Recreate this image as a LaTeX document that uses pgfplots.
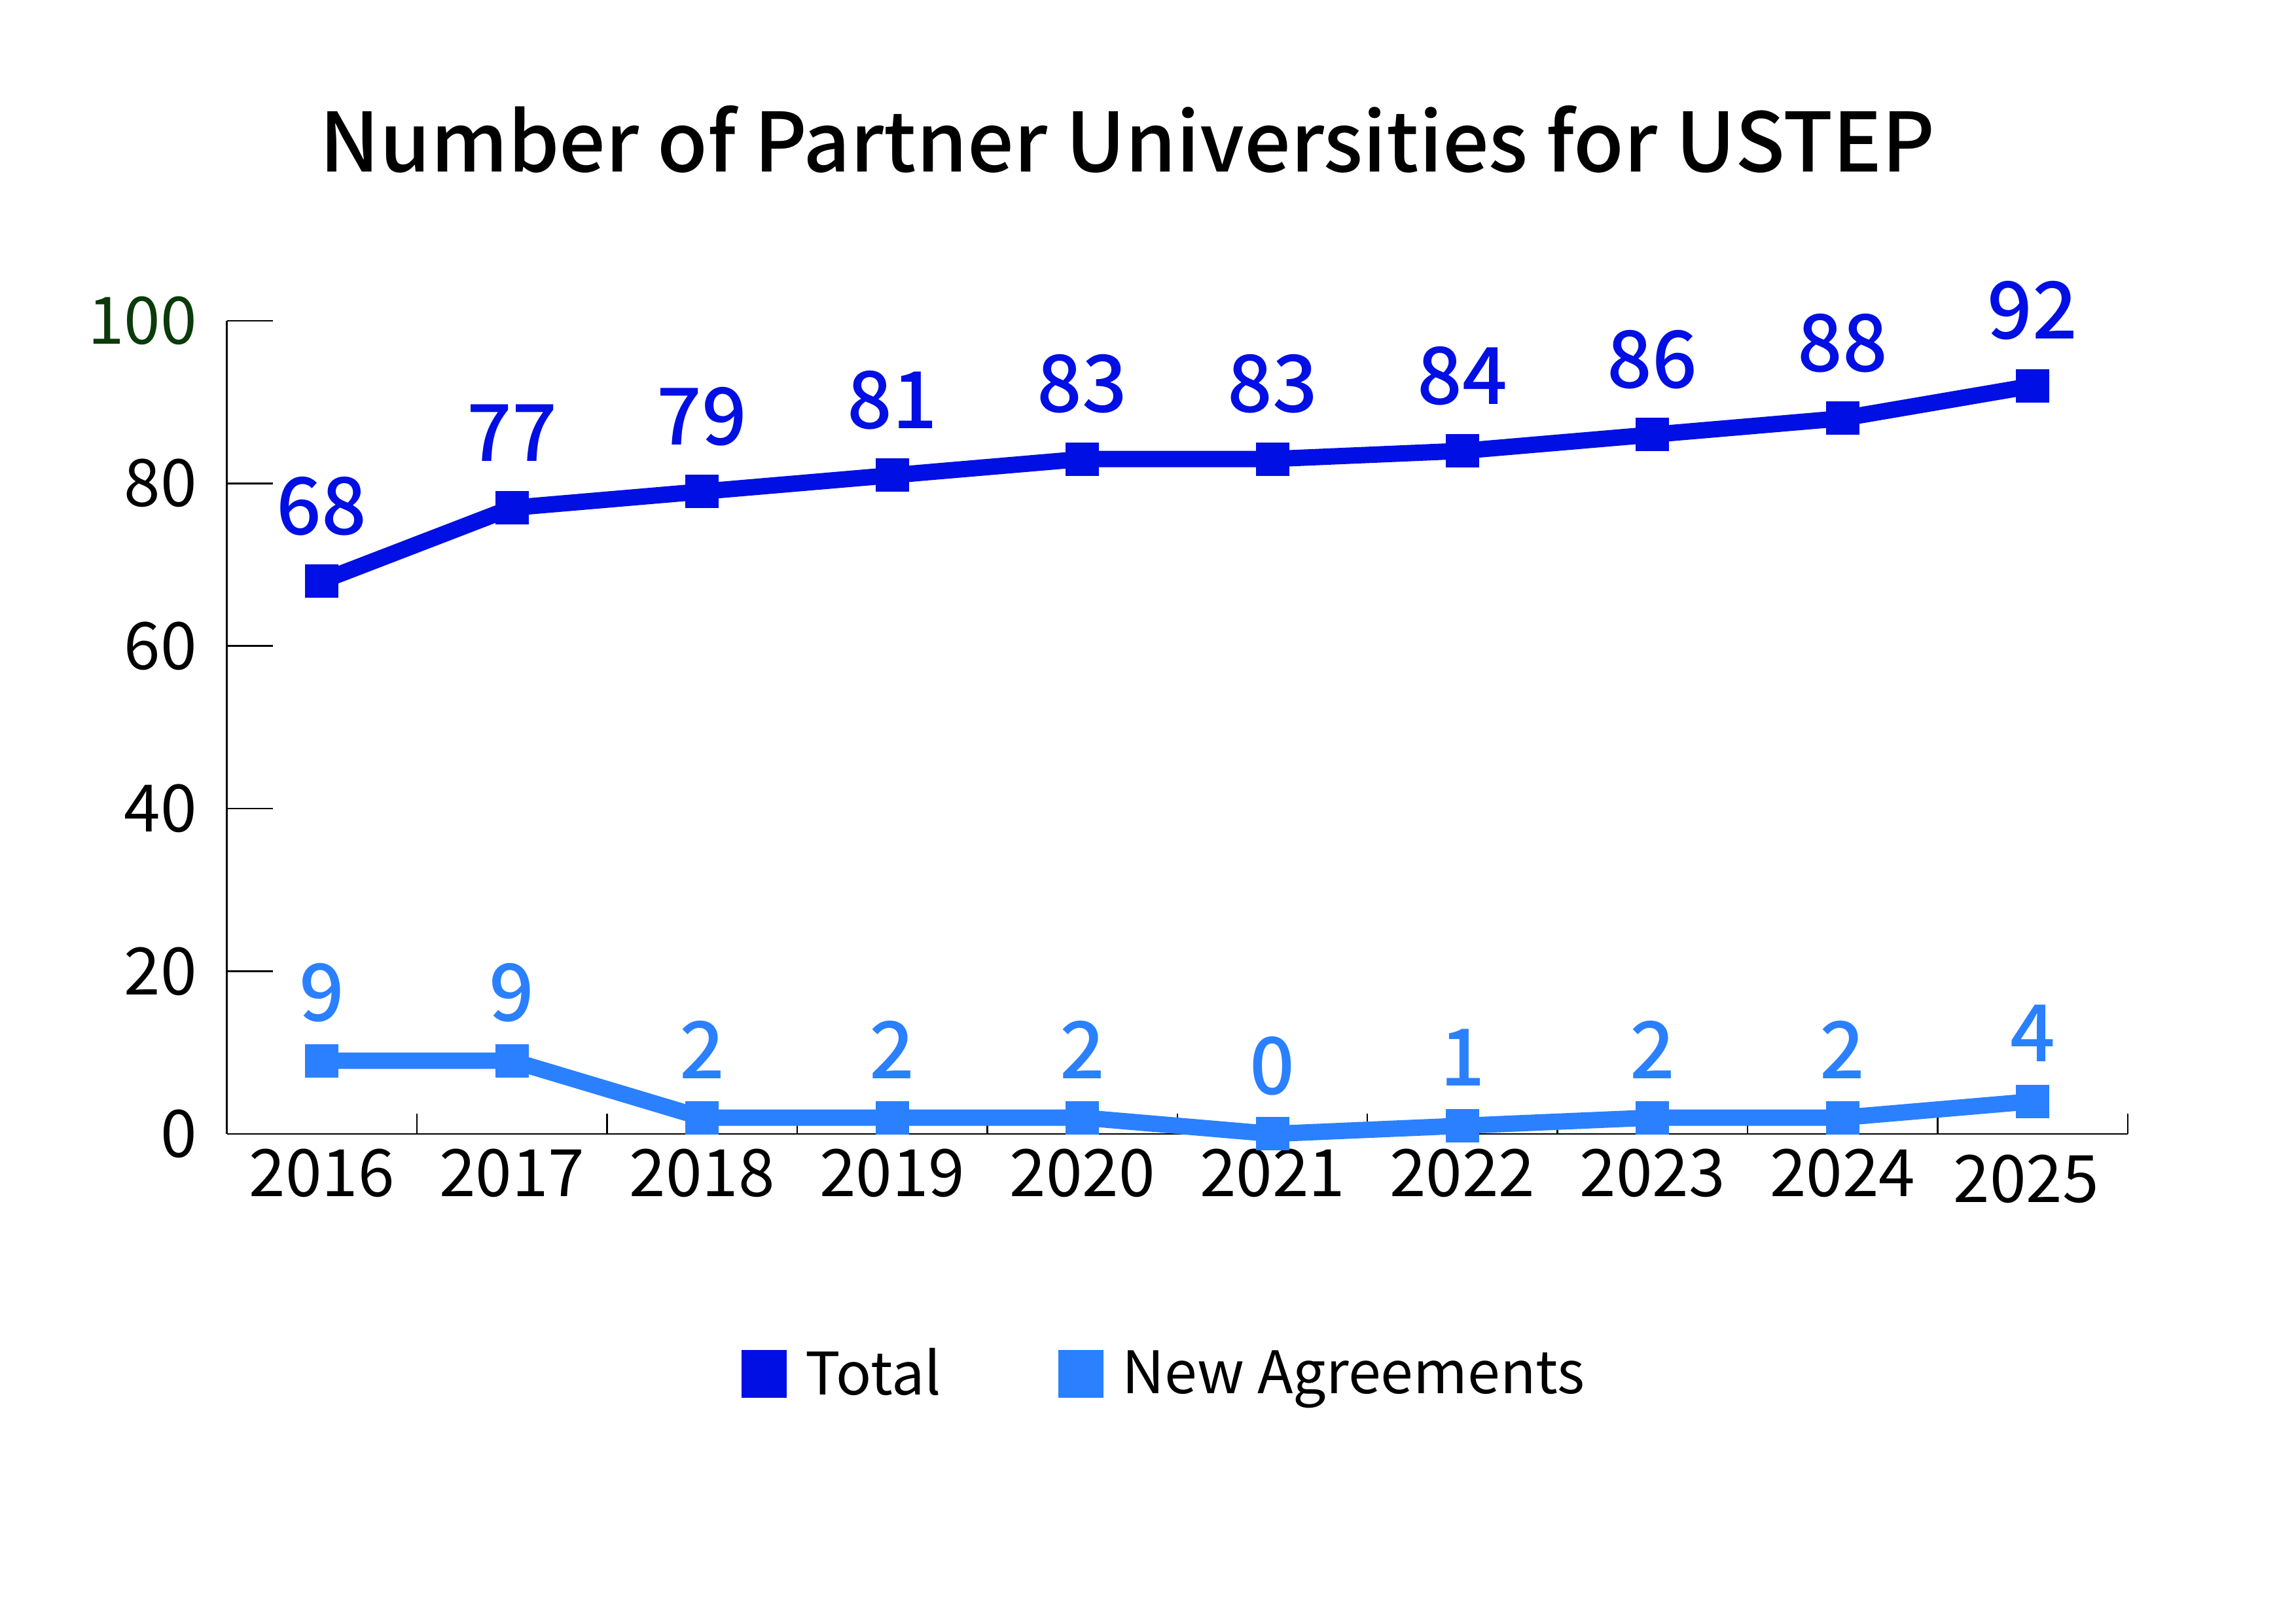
\documentclass[border=0pt]{standalone}
\usepackage{fontspec}
\setmainfont{Noto Sans CJK JP}
\newfontfamily\medfont{Noto Sans CJK JP Medium}
\usepackage{pgfplots}
\pgfplotsset{compat=1.18}
\definecolor{totalc}{HTML}{000FE3}
\definecolor{newc}{HTML}{2A80FF}
\definecolor{hundred}{HTML}{0B3A0B}

\begin{document}
\begin{tikzpicture}
  \path[use as bounding box] (0,0) rectangle (842bp,595bp);
  \node[font=\medfont\fontsize{30bp}{36bp}\selectfont] at (413.5bp,544bp)
    {Number of Partner Universities for USTEP};
  \begin{axis}[
    at={(83.2bp,179.3bp)}, anchor=south west,
    scale only axis,
    width=697.1bp, height=298.1bp,
    xmin=-0.5, xmax=9.5,
    ymin=0, ymax=100,
    clip=false,
    axis x line*=bottom,
    axis y line*=left,
    axis line style={line width=0.6bp},
    tick align=inside,
    major tick length=7.5bp,
    every tick/.style={black, line width=0.6bp},
    y tick style={/pgfplots/major tick length=17bp},
    xtick={-0.5,0.5,...,9.5},
    x tick label as interval,
    xticklabels={2016,2017,2018,2019,2020,2021,2022,2023,2024,
      \hspace*{-4.8bp}\raisebox{-2bp}[\height]{2025}},
    xticklabel style={yshift=-2.1bp},
    ytick={0,20,...,100},
    yticklabels={0,20,40,60,80,\textcolor{hundred}{100}},
    yticklabel style={xshift=-7.5bp},
    tick label style={font=\fontsize{24bp}{28bp}\selectfont},
    /pgf/number format/assume math mode=true,
    legend columns=2,
    legend style={draw=none, at={(0.494,-0.295)}, anchor=center,
      font=\fontsize{21.5bp}{26bp}\selectfont,
      /tikz/every odd column/.append style={column sep=5bp},
      /tikz/every even column/.append style={column sep=41bp}},
    legend image code/.code={\fill[#1, draw=none] (0bp,-8.75bp) rectangle (16.5bp,8.75bp);},
  ]
  \addplot[totalc, line width=6bp, line join=round, mark=square*,
    mark size=6bp, mark options={line width=0pt, fill=totalc},
    nodes near coords,
    every node near coord/.append style={anchor=center, yshift=27.5bp,
      text=totalc, font=\medfont\fontsize{29bp}{34bp}\selectfont}]
    coordinates {
    (0,68) (1,77) (2,79) (3,81) (4,83) (5,83) (6,84) (7,86) (8,88) (9,92)
  };
  \addlegendentry{Total}

  \addplot[newc, line width=6bp, line join=round, mark=square*,
    mark size=6bp, mark options={line width=0pt, fill=newc},
    nodes near coords,
    every node near coord/.append style={anchor=center, yshift=25bp,
      text=newc, font=\medfont\fontsize{29bp}{34bp}\selectfont}]
    coordinates {
    (0,9) (1,9) (2,2) (3,2) (4,2) (5,0) (6,1) (7,2) (8,2) (9,4)
  };
  \addlegendentry{New Agreements}
  \end{axis}
\end{tikzpicture}
\end{document}
